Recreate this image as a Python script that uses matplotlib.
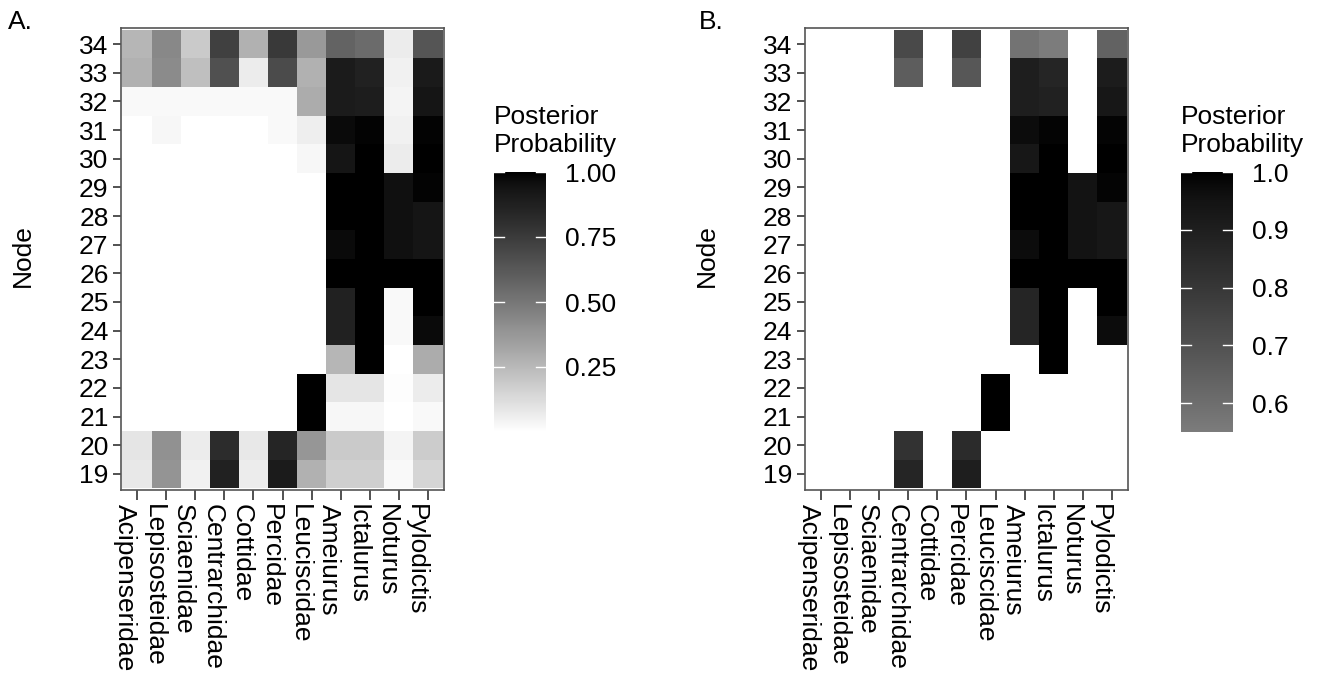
import numpy as np
import matplotlib
matplotlib.use("Agg")
import matplotlib.pyplot as plt
import matplotlib.transforms as mtransforms
from matplotlib.colors import ListedColormap

plt.rcParams['font.family'] = ['Liberation Sans', 'DejaVu Sans']

taxa = ["Acipenseridae", "Lepisosteidae", "Sciaenidae", "Centrarchidae", "Cottidae",
        "Percidae", "Leuciscidae", "Ameiurus", "Ictalurus", "Noturus", "Pylodictis"]
nodes = list(range(19, 35))

# posterior probabilities, rows = nodes 19..34
pp = [
    [0.08, 0.39, 0.05, 0.87, 0.07, 0.90, 0.28, 0.17, 0.17, 0.02, 0.15],  # 19
    [0.09, 0.40, 0.07, 0.82, 0.08, 0.85, 0.38, 0.19, 0.19, 0.04, 0.18],  # 20
    [0.00, 0.00, 0.00, 0.00, 0.00, 0.00, 1.00, 0.03, 0.03, 0.00, 0.02],  # 21
    [0.00, 0.00, 0.00, 0.00, 0.00, 0.00, 1.00, 0.09, 0.09, 0.01, 0.07],  # 22
    [0.00, 0.00, 0.00, 0.00, 0.00, 0.00, 0.00, 0.26, 1.00, 0.00, 0.30],  # 23
    [0.00, 0.00, 0.00, 0.00, 0.00, 0.00, 0.00, 0.87, 1.00, 0.02, 0.97],  # 24
    [0.00, 0.00, 0.00, 0.00, 0.00, 0.00, 0.00, 0.87, 1.00, 0.02, 1.00],  # 25
    [0.00, 0.00, 0.00, 0.00, 0.00, 0.00, 0.00, 1.00, 1.00, 1.00, 1.00],  # 26
    [0.00, 0.00, 0.00, 0.00, 0.00, 0.00, 0.00, 0.97, 1.00, 0.95, 0.93],  # 27
    [0.00, 0.00, 0.00, 0.00, 0.00, 0.00, 0.00, 1.00, 1.00, 0.95, 0.93],  # 28
    [0.00, 0.00, 0.00, 0.00, 0.00, 0.00, 0.00, 1.00, 1.00, 0.95, 0.99],  # 29
    [0.00, 0.00, 0.00, 0.00, 0.00, 0.00, 0.03, 0.93, 1.00, 0.07, 1.00],  # 30
    [0.00, 0.03, 0.00, 0.00, 0.00, 0.02, 0.06, 0.97, 0.99, 0.05, 0.99],  # 31
    [0.02, 0.02, 0.02, 0.02, 0.02, 0.02, 0.30, 0.90, 0.89, 0.04, 0.93],  # 32
    [0.28, 0.42, 0.23, 0.66, 0.07, 0.68, 0.28, 0.90, 0.87, 0.05, 0.91],  # 33
    [0.26, 0.43, 0.19, 0.73, 0.28, 0.76, 0.37, 0.58, 0.55, 0.07, 0.64],  # 34
]
cutoff = 0.5  # panel B keeps only the well supported cells

A = np.array(pp)
B = np.where(A >= cutoff, A, np.nan)


def lab_gray(L):
    # gray from CIE L*, like ggplot's gradient
    fy = (L + 16) / 116
    Y = np.where(fy ** 3 > 0.008856, fy ** 3, L / 903.3)
    return np.where(Y <= 0.0031308, 12.92 * Y, 1.055 * Y ** (1 / 2.4) - 0.055)


def gray_cmap(L_low):
    g = lab_gray(np.linspace(L_low, 0, 256))
    return ListedColormap(np.column_stack([g, g, g]))


W, H = 1322, 678
fig = plt.figure(figsize=(W / 100, H / 100), dpi=100)
fs = 19


def panel(left, data, cmap, vmin, cb_left, cb_ticks, cb_fmt, tag, tag_x):
    ax = fig.add_axes([left / W, 1 - 490 / H, 323 / W, 462 / H])
    mesh = ax.pcolormesh(np.arange(len(taxa) + 1), np.arange(len(nodes) + 1), data,
                         cmap=cmap, vmin=vmin, vmax=1.0)
    ax.set_xlim(-0.05, len(taxa) + 0.05)
    ax.set_ylim(-0.06, len(nodes) + 0.06)
    ax.set_xticks(np.arange(len(taxa)) + 0.5)
    ax.set_xticklabels(taxa, rotation=270, ha='right', va='top', fontsize=fs,
                       rotation_mode='default')
    shift = mtransforms.ScaledTranslation(4 / 100, 0, fig.dpi_scale_trans)
    for lab in ax.get_xticklabels():
        lab.set_transform(lab.get_transform() + shift)
    ax.set_yticks(np.arange(len(nodes)) + 0.5)
    ax.set_yticklabels([str(n) for n in nodes], fontsize=fs)
    ax.tick_params(length=6, width=1.2, color='#333333', pad=3)
    ax.tick_params(axis='x', length=7)
    for s in ax.spines.values():
        s.set_color('#555555')
        s.set_linewidth(1.2)
    fig.text((left - 98) / W, 1 - 256 / H, "Node", rotation=90, ha='center', va='center', fontsize=fs)
    fig.text(tag_x / W, 1 - 22 / H, tag, ha='left', va='center', fontsize=fs)

    cax = fig.add_axes([cb_left / W, 1 - 432 / H, 52 / W, 260 / H])
    cb = fig.colorbar(mesh, cax=cax)
    cb.outline.set_visible(False)
    cb.set_ticks(cb_ticks)
    cb.set_ticklabels([cb_fmt % t for t in cb_ticks])
    cax.tick_params(length=0, labelsize=fs, pad=14)
    for t in cb_ticks:
        cax.plot([0, 0.2], [t, t], color='white', lw=1, transform=cax.get_yaxis_transform())
        cax.plot([0.8, 1], [t, t], color='white', lw=1, transform=cax.get_yaxis_transform())
    fig.text(cb_left / W, 1 - 157 / H, "Posterior\nProbability", ha='left', va='bottom',
             fontsize=fs, linespacing=1.2)
    return ax


panel(121, A, gray_cmap(100), 0.0, 494, [0.25, 0.5, 0.75, 1.0], "%.2f", "A.", 8)
panel(805, B, gray_cmap(52), np.nanmin(B), 1181, [0.6, 0.7, 0.8, 0.9, 1.0], "%.1f", "B.", 699)

fig.savefig("out.png", dpi=100)
